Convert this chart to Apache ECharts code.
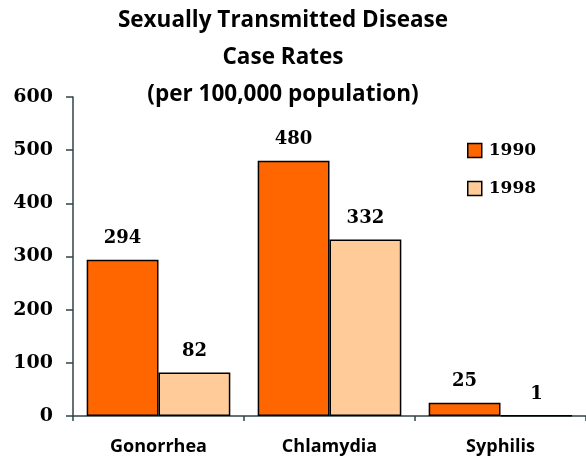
<!DOCTYPE html>
<html>
<head>
<meta charset="utf-8">
<script src="https://cdn.jsdelivr.net/npm/echarts@6/dist/echarts.min.js"></script>
<style>
  html, body { margin: 0; padding: 0; background: #fff; }
  #chart { width: 586px; height: 461px; }
</style>
</head>
<body>
<div id="chart"></div>
<script>
const categories = ['Gonorrhea', 'Chlamydia', 'Syphilis']
const rates1990 = [294, 480, 25]
const rates1998 = [82, 332, 1]
const yTicks = [0, 100, 200, 300, 400, 500, 600]

const axisColor = '#2f4444'
const serifBold = { fontFamily: 'DejaVu Serif', fontWeight: 'bold', color: '#000' }
const sansBold = { fontFamily: 'Open Sans', fontWeight: 'bold', color: '#000' }

const chart = echarts.init(document.getElementById('chart'))

// number above each bar
function barLabel() {
  return Object.assign({
    show: true,
    position: 'top',
    distance: 12,
    fontSize: 18
  }, serifBold)
}

chart.setOption({
  animation: false,
  title: {
    text: 'Sexually Transmitted Disease\nCase Rates\n(per 100,000 population)',
    left: 283,
    textAlign: 'center',
    top: 2,
    padding: 0,
    textStyle: Object.assign({ fontSize: 22.5, lineHeight: 37 }, sansBold)
  },
  legend: {
    orient: 'vertical',
    left: 467,
    top: 142,
    padding: 0,
    itemWidth: 14,
    itemHeight: 14,
    itemGap: 21,
    icon: 'rect',
    itemStyle: { borderColor: '#000', borderWidth: 1.5 },
    textStyle: Object.assign({ fontSize: 17, padding: [0, 0, 0, 2] }, serifBold),
    data: ['1990', '1998']
  },
  grid: {
    left: 73,
    right: -3,
    top: 97,
    bottom: 45
  },
  xAxis: {
    type: 'category',
    data: categories,
    axisLine: { lineStyle: { color: axisColor, width: 1.5 } },
    axisTick: { show: true, length: 5, lineStyle: { color: axisColor, width: 1.5 } },
    axisLabel: Object.assign({ margin: 22, fontSize: 18 }, sansBold)
  },
  yAxis: {
    type: 'value',
    min: yTicks[0],
    max: yTicks[yTicks.length - 1],
    interval: 100,
    axisLine: { show: true, lineStyle: { color: axisColor, width: 1.5 } },
    axisTick: { show: true, length: 7, lineStyle: { color: axisColor, width: 1.5 } },
    splitLine: { show: false },
    axisLabel: Object.assign({ margin: 20, fontSize: 19 }, serifBold)
  },
  series: [
    {
      name: '1990',
      type: 'bar',
      data: rates1990,
      barGap: '0%',
      barCategoryGap: '16%',
      itemStyle: { color: '#ff6600', borderColor: '#000', borderWidth: 1.5 },
      label: barLabel()
    },
    {
      name: '1998',
      type: 'bar',
      data: rates1998,
      itemStyle: { color: '#ffcc99', borderColor: '#000', borderWidth: 1.5 },
      label: barLabel()
    }
  ]
})
</script>
</body>
</html>
